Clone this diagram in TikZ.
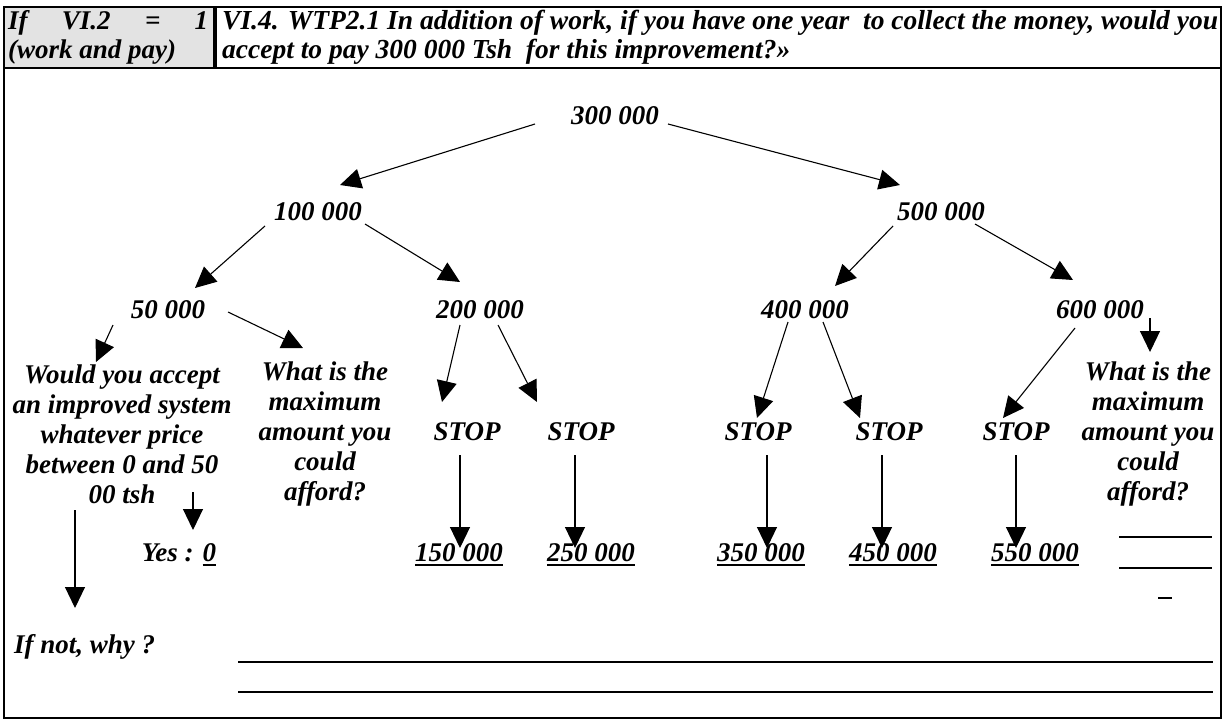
\documentclass[tikz,border=0pt]{standalone}
\usepackage{fontspec}
\setmainfont{Liberation Serif}
\usetikzlibrary{arrows.meta}

% thick underline for the amounts
\newcommand\thickul[1]{\setbox0\hbox{#1}\rlap{\rule[-5pt]{\wd0}{2.6pt}}\box0}

\begin{document}
\begin{tikzpicture}[x=1pt,y=-1pt,
    font=\bfseries\itshape\fontsize{27}{30}\selectfont,
    arr/.style={-{Triangle[length=21pt,width=20pt]}, line width=1.1pt},
    qtext/.style={align=center, inner sep=0pt},
    amount/.style={inner sep=0pt}]
\useasboundingbox (0,0) rectangle (1225,720);

% Header row
\fill[gray!22] (4,7) rectangle (215,68);
\draw[line width=1.6pt] (4,7) rectangle (1221,68);
\draw[line width=3.2pt] (215,7) -- (215,68);
\draw[line width=1.6pt] (4,68) rectangle (1221,718);
\node[anchor=west, inner sep=0pt] (cond1) at (8,23) {\makebox[200pt][l]{If\hfill VI.2\hfill =\hfill 1}};
\node[anchor=west, inner sep=0pt] (cond2) at (8,52) {(work and pay)};
\node[anchor=west, inner sep=0pt, font=\bfseries\itshape\fontsize{27.5}{30}\selectfont] (quest1) at (222,23) {VI.4. WTP2.1 In addition of work, if you have one year \ to collect the money, would you};
\node[anchor=west, inner sep=0pt, font=\bfseries\itshape\fontsize{27.5}{30}\selectfont] (quest2) at (222,52) {accept to pay 300 000 Tsh \ for this improvement?»};

% Tree of amounts
\node (n300) at (615,116) {300 000};
\node (n100) at (318,212) {100 000};
\node (n500) at (941,212) {500 000};
\node (n50)  at (168,310) {50 000};
\node (n200) at (480,310) {200 000};
\node (n400) at (805,310) {400 000};
\node (n600) at (1100,310) {600 000};

% Questions
\node[qtext] (accept) at (122,434) {Would you accept\\an improved system\\whatever price\\between 0 and 50\\00 tsh};
\node[qtext] (maxl) at (325,434) {What is the\\maximum\\amount you\\could\\afford?};
\node[qtext] (maxr) at (1148,434) {What is the\\maximum\\amount you\\could\\afford?};

% STOP
\node (s1) at (467,432) {STOP};
\node (s2) at (581,432) {STOP};
\node (s3) at (758,432) {STOP};
\node (s4) at (889,432) {STOP};
\node (s5) at (1016,432) {STOP};

% Final amounts
\node[amount] (yes)  at (179,555) {Yes : \thickul{0}};
\node[amount] (v150) at (459,555) {\thickul{150 000}};
\node[amount] (v250) at (591,555) {\thickul{250 000}};
\node[amount] (v350) at (761,555) {\thickul{350 000}};
\node[amount] (v450) at (893,555) {\thickul{450 000}};
\node[amount] (v550) at (1035,555) {\thickul{550 000}};
\node[anchor=west, inner sep=0pt] (ifnot) at (14,647) {If not, why ?};

% Blanks
\coordinate (bl1) at (1119,537); \coordinate (br1) at (1212,537);
\coordinate (bl2) at (1119,568); \coordinate (br2) at (1212,568);
\coordinate (bl3) at (1158,598); \coordinate (br3) at (1172,598);
\coordinate (bl4) at (238,662);  \coordinate (br4) at (1213,662);
\coordinate (bl5) at (238,692);  \coordinate (br5) at (1213,692);
\foreach \i in {1,...,5} \draw[line width=1.6pt] (bl\i) -- (br\i);

% Arrows
\draw[arr] ([xshift=-80pt,yshift=-8pt]n300.center) -- ([xshift=22pt,yshift=27pt]n100.center);
\draw[arr] ([xshift=53pt,yshift=-8pt]n300.center) -- ([xshift=-41pt,yshift=27pt]n500.center);
\draw[arr] ([xshift=-53pt,yshift=-14pt]n100.center) -- ([xshift=27pt,yshift=22pt]n50.center);
\draw[arr] ([xshift=47pt,yshift=-12pt]n100.center) -- ([xshift=-20pt,yshift=28pt]n200.center);
\draw[arr] ([xshift=-48pt,yshift=-14pt]n500.center) -- ([xshift=30pt,yshift=24pt]n400.center);
\draw[arr] ([xshift=34pt,yshift=-12pt]n500.center) -- ([xshift=-27pt,yshift=30pt]n600.center);
\draw[arr] ([xshift=-55pt,yshift=-15pt]n50.center) -- ([xshift=-26pt,yshift=72pt]accept.center);
\draw[arr] ([xshift=60pt,yshift=-2pt]n50.center) -- ([xshift=-22pt,yshift=86pt]maxl.center);
\draw[arr] ([xshift=-20pt,yshift=-15pt]n200.center) -- ([xshift=-25pt,yshift=30pt]s1.center);
\draw[arr] ([xshift=18pt,yshift=-15pt]n200.center) -- ([xshift=-44pt,yshift=30pt]s2.center);
\draw[arr] ([xshift=-17pt,yshift=-12pt]n400.center) -- ([xshift=-1pt,yshift=14pt]s3.center);
\draw[arr] ([xshift=18pt,yshift=-12pt]n400.center) -- ([xshift=-29pt,yshift=14pt]s4.center);
\draw[arr] ([xshift=-25pt,yshift=-18pt]n600.center) -- ([xshift=-13pt,yshift=14pt]s5.center);
\draw[arr] ([xshift=50pt,yshift=-8pt]n600.center) -- ([xshift=2pt,yshift=82pt]maxr.center);
\draw[arr] ([xshift=-7pt,yshift=-23pt]s1.center) -- ([xshift=1pt,yshift=7pt]v150.center);
\draw[arr] ([xshift=-6pt,yshift=-23pt]s2.center) -- ([xshift=-16pt,yshift=7pt]v250.center);
\draw[arr] ([xshift=9pt,yshift=-23pt]s3.center) -- ([xshift=6pt,yshift=7pt]v350.center);
\draw[arr] ([xshift=-7pt,yshift=-23pt]s4.center) -- ([xshift=-11pt,yshift=7pt]v450.center);
\draw[arr] ([xshift=0pt,yshift=-23pt]s5.center) -- ([xshift=-19pt,yshift=7pt]v550.center);
\draw[arr] ([xshift=71pt,yshift=-58pt]accept.center) -- ([xshift=14pt,yshift=25pt]yes.center);
\draw[arr] ([xshift=-47pt,yshift=-76pt]accept.center) -- ([xshift=61pt,yshift=39pt]ifnot.west);
\end{tikzpicture}
\end{document}
